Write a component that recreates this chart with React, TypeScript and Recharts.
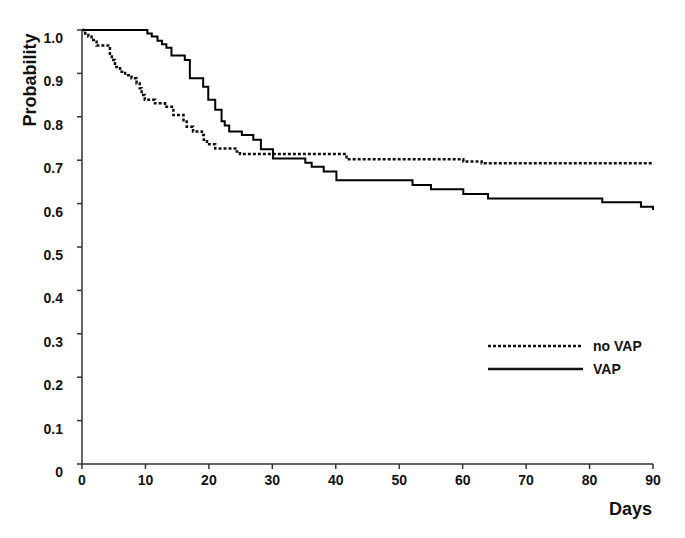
import { LineChart, Line, XAxis, YAxis, Legend, Label } from "recharts";

const FONT = "'Liberation Sans', Arial, sans-serif";
const INK = "#111";

// Kaplan-Meier steps (day where the step starts, probability after it)
const vapDays = [0, 10.3, 11.0, 11.9, 12.6, 13.3, 14.1, 16.2, 17.0, 19.1, 19.9, 21.0, 22.0, 22.5, 23.2, 25.2, 27.0, 28.2, 30.1, 35.2, 36.2, 38.1, 40.1, 52.1, 55.0, 60.1, 64.0, 82.0, 88.1, 90];
const vapProb = [1.0, 0.992, 0.985, 0.975, 0.967, 0.959, 0.941, 0.931, 0.889, 0.869, 0.839, 0.816, 0.79, 0.78, 0.766, 0.758, 0.747, 0.725, 0.704, 0.694, 0.685, 0.674, 0.654, 0.643, 0.633, 0.622, 0.612, 0.603, 0.593, 0.585];

const noVapDays = [0, 0.5, 1.0, 1.5, 2.3, 4.4, 4.7, 5.2, 6.0, 6.8, 7.8, 8.6, 9.1, 9.4, 9.9, 11.5, 13.1, 14.4, 16.0, 16.5, 17.5, 18.9, 19.2, 19.7, 21.0, 24.4, 24.9, 41.7, 60.1, 63.0, 89.8];
const noVapProb = [1.0, 0.992, 0.985, 0.977, 0.964, 0.942, 0.931, 0.915, 0.904, 0.896, 0.889, 0.877, 0.866, 0.85, 0.839, 0.831, 0.823, 0.804, 0.789, 0.777, 0.766, 0.758, 0.747, 0.737, 0.727, 0.72, 0.714, 0.702, 0.697, 0.693, 0.693];

const dayTicks = [0, 10, 20, 30, 40, 50, 60, 70, 80, 90];
const probTicks = [0, 0.1, 0.2, 0.3, 0.4, 0.5, 0.6, 0.7, 0.8, 0.9, 1.0];

const seriesNames = ["no VAP", "VAP"];

const vapData = vapDays.map((day, i) => ({ day, p: vapProb[i] }));
const noVapData = noVapDays.map((day, i) => ({ day, p: noVapProb[i] }));

const tickStyle = { fill: INK, fontFamily: FONT, fontWeight: 700, fontSize: 14 };

function YTitle() {
  return (
    <text
      x={36}
      y={80}
      transform="rotate(-90, 36, 80)"
      textAnchor="middle"
      fill={INK}
      style={{ fontFamily: FONT, fontWeight: 700, fontSize: 18 }}
    >
      Probability
    </text>
  );
}

function XTitle() {
  return (
    <text
      x={652}
      y={515}
      textAnchor="end"
      fill={INK}
      style={{ fontFamily: FONT, fontWeight: 700, fontSize: 18 }}
    >
      Days
    </text>
  );
}

function KMLegend() {
  const row = { display: "flex", alignItems: "center", height: 23 };
  return (
    <div style={{ fontFamily: FONT, fontWeight: 700, fontSize: 14, color: INK, lineHeight: "16px" }}>
      <div style={row}>
        <svg width={95} height={6}>
          <line x1={0} y1={3} x2={95} y2={3} stroke={INK} strokeWidth={2.5} strokeDasharray="3 2" />
        </svg>
        <span style={{ marginLeft: 10 }}>{seriesNames[0]}</span>
      </div>
      <div style={row}>
        <svg width={95} height={6}>
          <line x1={0} y1={3} x2={95} y2={3} stroke={INK} strokeWidth={2.5} />
        </svg>
        <span style={{ marginLeft: 10 }}>{seriesNames[1]}</span>
      </div>
    </div>
  );
}

export default function App() {
  return (
    <div style={{ position: "fixed", left: 0, top: 0, width: 685, height: 538, background: "#fff" }}>
      <LineChart width={685} height={538} margin={{ top: 30, right: 32, left: 0, bottom: 0 }}>
        <XAxis
          type="number"
          dataKey="day"
          domain={[0, 90]}
          ticks={dayTicks}
          height={74}
          tickSize={5}
          tickMargin={6}
          tick={tickStyle}
          tickLine={{ stroke: "#333", strokeWidth: 1.5 }}
          axisLine={{ stroke: "#333", strokeWidth: 1.5 }}
        >
          <Label content={XTitle} />
        </XAxis>
        <YAxis
          type="number"
          dataKey="p"
          domain={[0, 1]}
          ticks={probTicks}
          width={82}
          tickSize={5}
          tickMargin={14}
          tick={{ ...tickStyle, dy: 8 }}
          tickFormatter={(v: number) => (v === 0 ? "0" : v.toFixed(1))}
          tickLine={{ stroke: "#333", strokeWidth: 1.5 }}
          axisLine={{ stroke: "#333", strokeWidth: 1.5 }}
        >
          <Label content={YTitle} />
        </YAxis>
        <Legend
          content={KMLegend}
          layout="horizontal"
          verticalAlign="middle"
          align="center"
          wrapperStyle={{ position: "absolute", left: 488, top: 334, width: 170, height: 46 }}
        />
        <Line
          data={noVapData}
          dataKey="p"
          name={seriesNames[0]}
          type="stepAfter"
          stroke={INK}
          strokeWidth={2.5}
          strokeDasharray="3 2"
          dot={false}
          activeDot={false}
          isAnimationActive={false}
        />
        <Line
          data={vapData}
          dataKey="p"
          name={seriesNames[1]}
          type="stepAfter"
          stroke="#000"
          strokeWidth={2}
          dot={false}
          activeDot={false}
          isAnimationActive={false}
        />
      </LineChart>
    </div>
  );
}
